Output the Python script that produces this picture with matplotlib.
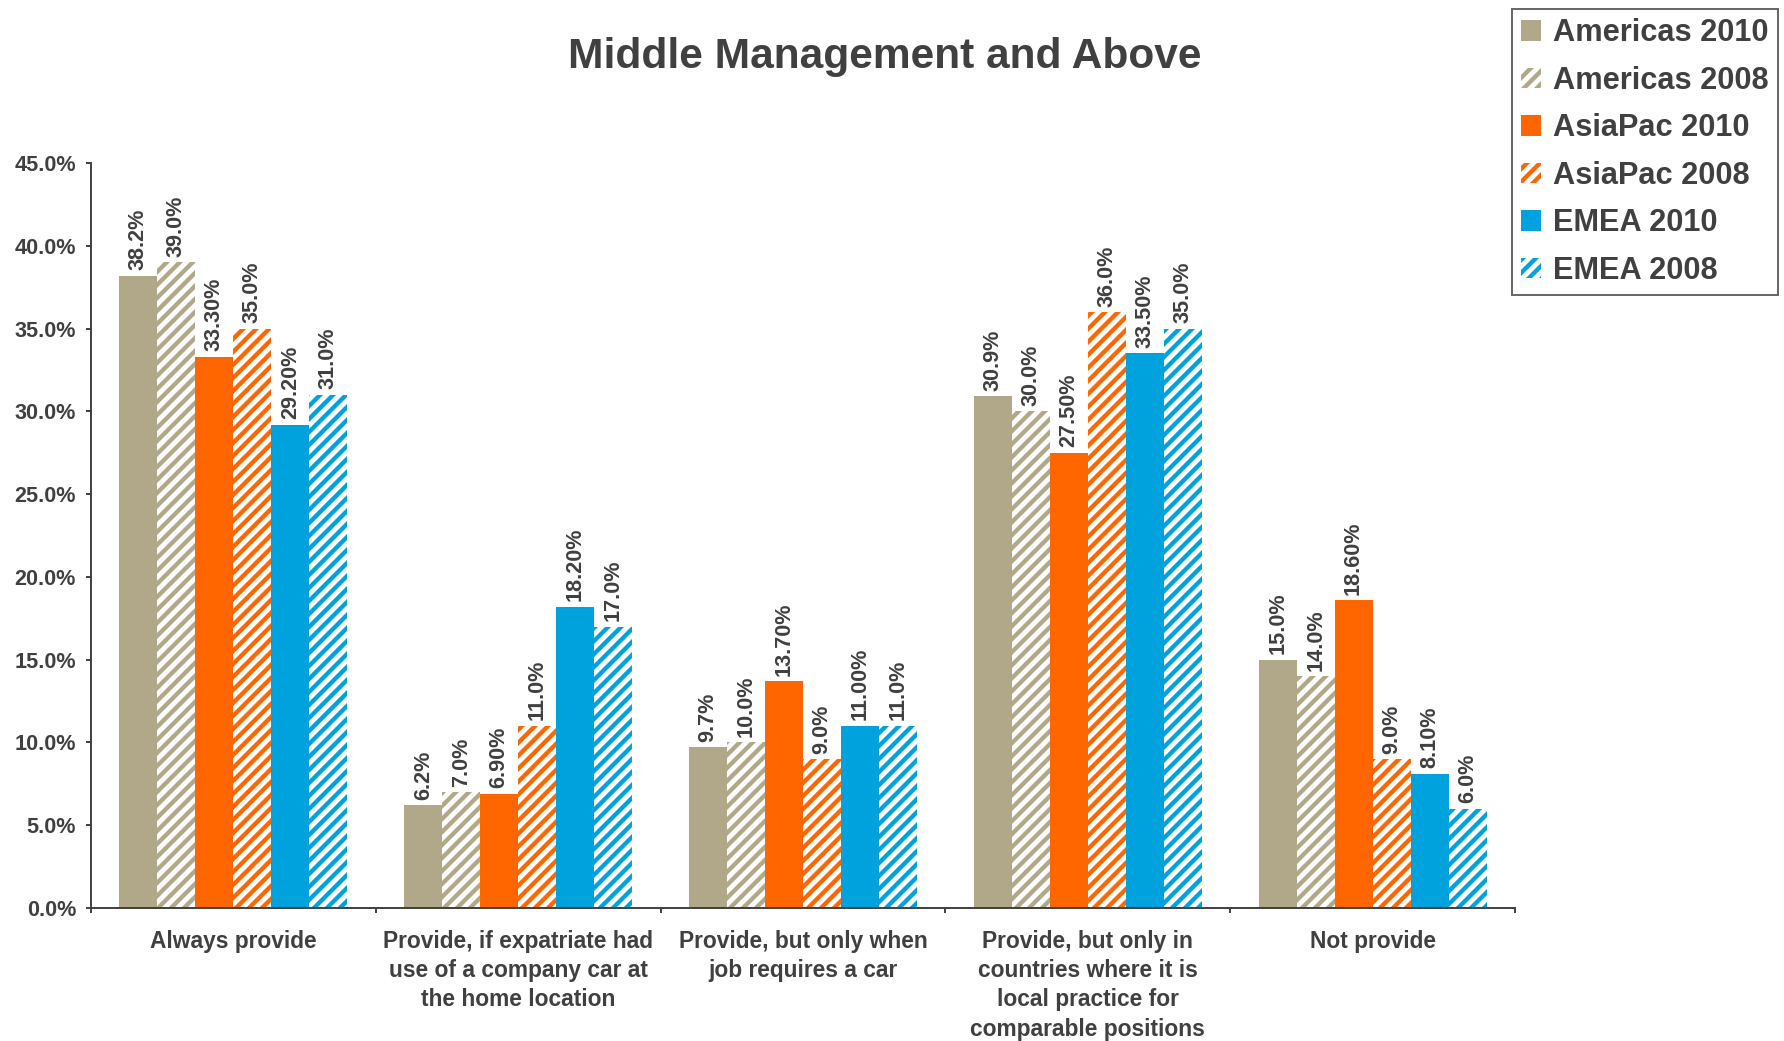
import matplotlib
matplotlib.use("Agg")
import matplotlib.pyplot as plt
import numpy as np

# ---- data ----
categories = [
    "Always provide",
    "Provide, if expatriate had\nuse of a company car at\nthe home location",
    "Provide, but only when\njob requires a car",
    "Provide, but only in\ncountries where it is\nlocal practice for\ncomparable positions",
    "Not provide",
]
series_names = ["Americas 2010", "Americas 2008", "AsiaPac 2010",
                "AsiaPac 2008", "EMEA 2010", "EMEA 2008"]
americas_2010 = [38.2, 6.2, 9.7, 30.9, 15.0]
americas_2008 = [39.0, 7.0, 10.0, 30.0, 14.0]
asiapac_2010 = [33.3, 6.9, 13.7, 27.5, 18.6]
asiapac_2008 = [35.0, 11.0, 9.0, 36.0, 9.0]
emea_2010 = [29.2, 18.2, 11.0, 33.5, 8.1]
emea_2008 = [31.0, 17.0, 11.0, 35.0, 6.0]
label_decimals = [1, 1, 2, 1, 2, 1]
y_ticks = [0, 5, 10, 15, 20, 25, 30, 35, 40, 45]

series_values = [americas_2010, americas_2008, asiapac_2010,
                 asiapac_2008, emea_2010, emea_2008]

# ---- style ----
TAN = "#B1A789"
ORANGE = "#FF6600"
BLUE = "#00A2DE"
TEXT = "#404040"
colors = [TAN, TAN, ORANGE, ORANGE, BLUE, BLUE]
hatched = [False, True, False, True, False, True]

DPI = 156
plt.rcParams["font.family"] = ["Liberation Sans", "DejaVu Sans"]
plt.rcParams["font.weight"] = "bold"
plt.rcParams["hatch.linewidth"] = 2.0

fig = plt.figure(figsize=(1784 / DPI, 1041 / DPI), dpi=DPI)
ax = fig.add_axes([91 / 1784, 1 - 908 / 1041, (1515 - 91) / 1784, (908 - 163) / 1041])

n = len(series_values)
width = 0.8 / n
x = np.arange(len(categories))

handles = []
for i, (vals, col, hat) in enumerate(zip(series_values, colors, hatched)):
    offs = (i - (n - 1) / 2) * width
    if hat:
        bars = ax.bar(x + offs, vals, width, facecolor="white", edgecolor=col,
                      hatch="////", linewidth=0, label=series_names[i])
    else:
        bars = ax.bar(x + offs, vals, width, color=col, linewidth=0,
                      label=series_names[i])
    handles.append(bars)
    fmt = "{:.%df}%%" % label_decimals[i]
    for xi, v in zip(x + offs, vals):
        ax.annotate(fmt.format(v), (xi, v), xytext=(0, 2.5), textcoords="offset points",
                    rotation=90, ha="center", va="bottom", fontsize=10,
                    color=TEXT, fontweight="bold")

ax.set_ylim(0, 45)
ax.set_xlim(-0.5, len(categories) - 0.5)
ax.set_yticks(y_ticks)
ax.set_yticklabels(["%.1f%%" % t for t in y_ticks])
ax.set_xticks(x)
ax.set_xticklabels(categories, linespacing=1.35)
ax.set_xticks(np.arange(len(categories) + 1) - 0.5, minor=True)

for s in ["top", "right"]:
    ax.spines[s].set_visible(False)
for s in ["left", "bottom"]:
    ax.spines[s].set_color(TEXT)
    ax.spines[s].set_linewidth(0.9)

ax.tick_params(axis="y", length=2.4, width=0.9, color=TEXT, labelcolor=TEXT,
               labelsize=10, pad=4.5)
ax.tick_params(axis="x", which="major", length=0, labelcolor=TEXT,
               labelsize=10.5, pad=10)
ax.tick_params(axis="x", which="minor", length=2.4, width=0.9, color=TEXT)
for lab in ax.get_xticklabels() + ax.get_yticklabels():
    lab.set_fontweight("bold")

fig.text(885 / 1784, 1 - 57 / 1041, "Middle Management and Above", ha="center",
         va="center", fontsize=19.6, fontweight="bold", color=TEXT)

leg = fig.legend(handles=handles, labels=series_names, loc="upper right",
                 bbox_to_anchor=(1778 / 1784, 1 - 9 / 1041), fontsize=14.2,
                 frameon=True, fancybox=False, labelspacing=0.57,
                 handlelength=0.65, handleheight=0.65, handletextpad=0.4,
                 borderpad=0.3, borderaxespad=0.0)
leg.get_frame().set_edgecolor(TEXT)
leg.get_frame().set_linewidth(0.9)
for t in leg.get_texts():
    t.set_color(TEXT)
    t.set_fontweight("bold")

fig.savefig("out.png", dpi=DPI, facecolor="white")
